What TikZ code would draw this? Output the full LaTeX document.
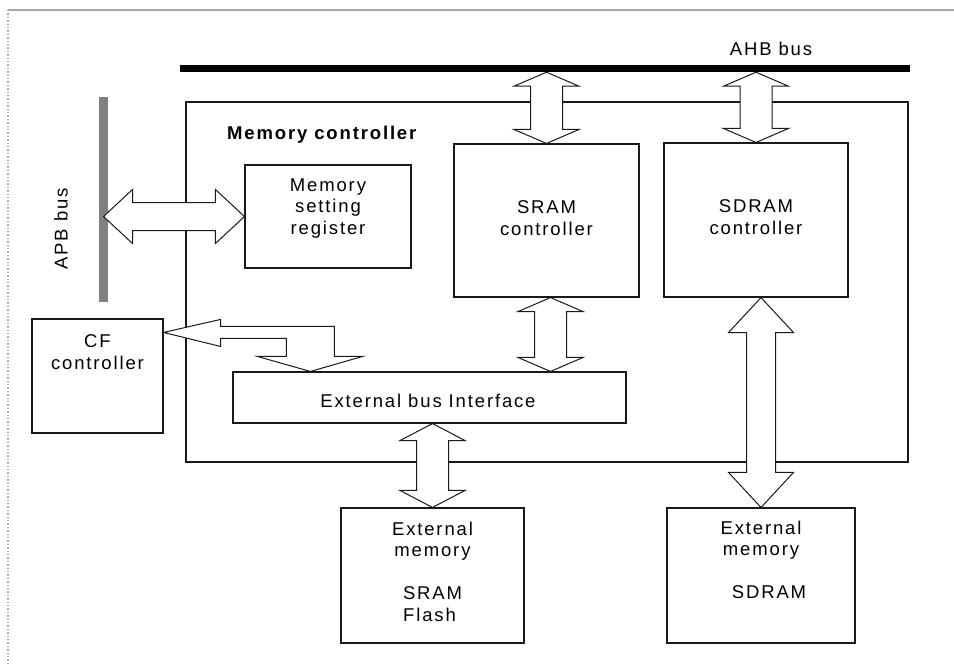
\documentclass[tikz,border=0pt]{standalone}
\usepackage{fontspec}
\newfontfamily\diagfont{Liberation Sans}[LetterSpace=10]
\usepackage{tikz}
\usetikzlibrary{calc,positioning}
\definecolor{framegray}{HTML}{A8A8A8}
\definecolor{apbgray}{HTML}{808080}

% block arrow, vertical: upper end, lower end, half shaft, half head, head length
\newcommand{\vbusarrow}[5]{%
  \draw[barrow] let \p1=#1, \p2=#2 in
    (\x1,\y1) -- (\x1+#4pt,\y1-#5pt) -- (\x1+#3pt,\y1-#5pt) -- (\x1+#3pt,\y2+#5pt)
    -- (\x1+#4pt,\y2+#5pt) -- (\x1,\y2) -- (\x1-#4pt,\y2+#5pt) -- (\x1-#3pt,\y2+#5pt)
    -- (\x1-#3pt,\y1-#5pt) -- (\x1-#4pt,\y1-#5pt) -- cycle;}
% block arrow, horizontal: left end, right end, half shaft, half head, head length
\newcommand{\hbusarrow}[5]{%
  \draw[barrow] let \p1=#1, \p2=#2 in
    (\x1,\y1) -- (\x1+#5pt,\y1+#4pt) -- (\x1+#5pt,\y1+#3pt) -- (\x2-#5pt,\y1+#3pt)
    -- (\x2-#5pt,\y1+#4pt) -- (\x2,\y1) -- (\x2-#5pt,\y1-#4pt) -- (\x2-#5pt,\y1-#3pt)
    -- (\x1+#5pt,\y1-#3pt) -- (\x1+#5pt,\y1-#4pt) -- cycle;}

\begin{document}
\begin{tikzpicture}[
    x=1pt, y=-1pt,
    lbl/.style={font=\diagfont\fontsize{18.5}{21.5}\selectfont, align=center, inner sep=0pt},
    blk/.style={draw=black!90, line width=1.1pt},
    busbar/.style={fill=#1, inner sep=0pt},
    barrow/.style={draw=black!90, line width=1pt, fill=white, line join=miter}
  ]
  \useasboundingbox (0,0) rectangle (954,664);
  \draw[framegray, line width=1.4pt] (8,10) -- (954,10);
  \draw[framegray, line width=1.4pt, dotted] (8,10) -- (8,664);

  % buses
  \node[busbar=black, minimum width=730pt, minimum height=7pt] (ahb) at (545,68.5) {};
  \node[lbl] (ahblbl) at (771,49) {AHB bus};
  \node[busbar=apbgray, minimum width=9pt, minimum height=205pt] (apb) at (103.5,199.5) {};
  \node[lbl, rotate=90] (apblbl) at (61,229) {APB bus};

  % memory controller and its blocks
  \node[blk, minimum width=722pt, minimum height=360pt] (mc) at (547,282) {};
  \node[lbl, anchor=base west] (mclbl) at (227,139) {\bfseries Memory controller};
  \node[blk, minimum width=166pt, minimum height=103pt] (msr) at (328,216.5) {};
  \node[lbl, below=14pt of msr.north] (msrlbl) {Memory\\setting\\register};
  \node[blk, minimum width=185pt, minimum height=153pt] (sram) at (546.5,220.5) {};
  \node[lbl, below=57pt of sram.north] (sramlbl) {SRAM\\controller};
  \node[blk, minimum width=184pt, minimum height=154pt] (sdram) at (756,220) {};
  \node[lbl, below=57pt of sdram.north] (sdramlbl) {SDRAM\\controller};
  \node[blk, minimum width=393pt, minimum height=51pt] (ebi) at (429.5,397.5) {};
  \node[lbl] (ebilbl) at (428,401) {External bus Interface};

  % outside blocks
  \node[blk, minimum width=131pt, minimum height=114pt] (cf) at (97.5,376) {};
  \node[lbl, below=16pt of cf.north] (cflbl) {CF\\controller};
  \node[blk, minimum width=183pt, minimum height=135pt] (extsram) at (432.5,575.5) {};
  \node[lbl, below=14pt of extsram.north] (extsramlbl) {External\\memory\\[21.5pt]SRAM\\\hspace*{-6pt}Flash};
  \node[blk, minimum width=188pt, minimum height=135pt] (extsdram) at (761,575.5) {};
  \node[lbl, below=13pt of extsdram.north] (extsdramlbl) {External\\memory\\[21.5pt]\hspace*{16pt}SDRAM};

  % block arrows
  \hbusarrow{(apb |- msr.west)}{(msr.west)}{14}{27}{29}
  \vbusarrow{(sram.north |- ahb.south)}{(sram.north)}{16}{32.5}{14}
  \vbusarrow{(sdram.north |- ahb.south)}{(sdram.north)}{16}{32.5}{14}
  \vbusarrow{([xshift=4pt]sram.south)}{([xshift=4pt]sram.south |- ebi.north)}{16}{32.5}{14}
  \vbusarrow{(extsram.north |- ebi.south)}{(extsram.north)}{16}{32.5}{17}
  \vbusarrow{(extsdram.north |- sdram.south)}{(extsdram.north)}{14.5}{32.5}{35}
  \draw[barrow] let \p1=([yshift=-14pt]cf.north east), \p2=([xshift=78pt]ebi.north west) in
    (\x1,\y1) -- (\x1+57pt,\y1+13pt) -- (\x1+57pt,\y1+6pt) -- (\x2+24pt,\y1+6pt)
    -- (\x2+24pt,\y2+15pt) -- (\x2+52pt,\y2+15pt) -- (\x2,\y2) -- (\x2-53pt,\y2+15pt)
    -- (\x2-24pt,\y2+15pt) -- (\x2-24pt,\y1-6pt) -- (\x1+57pt,\y1-6pt)
    -- (\x1+57pt,\y1-14pt) -- cycle;
\end{tikzpicture}
\end{document}
